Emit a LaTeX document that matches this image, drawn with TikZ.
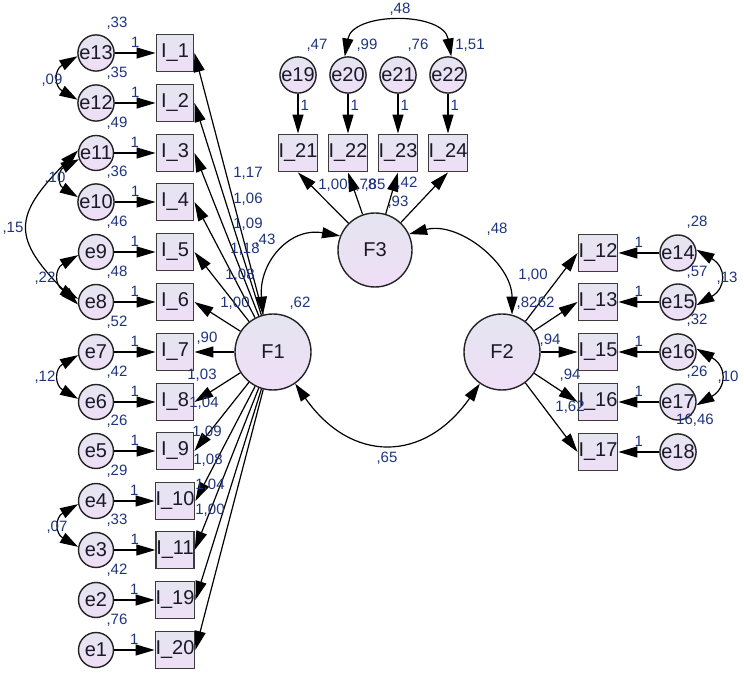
\documentclass[tikz,border=0pt]{standalone}
\usepackage{fontspec}
\setmainfont{Liberation Sans}
\usepackage{tikz}
\usetikzlibrary{arrows.meta}
\definecolor{semTop}{RGB}{228,229,240}
\definecolor{semBot}{RGB}{239,222,246}
\definecolor{semEdge}{RGB}{35,35,35}
\definecolor{semBox}{RGB}{60,60,60}
\definecolor{semText}{RGB}{25,25,40}
\definecolor{semLabel}{RGB}{30,52,125}

\begin{document}
\begin{tikzpicture}[x=1pt,y=1pt,
    latent/.style={circle, draw=semEdge, line width=1.4pt, top color=semTop, bottom color=semBot,
        minimum size=76pt, inner sep=0pt, text=semText, font=\fontsize{20}{20}\selectfont},
    err/.style={latent, minimum size=35pt},
    item/.style={rectangle, draw=semBox, line width=1.9pt, top color=semTop, bottom color=semBot,
        minimum size=37pt, inner sep=0pt, text=semText, font=\fontsize{20}{20}\selectfont},
    arr/.style={-{Triangle[length=19pt,width=11pt]}, line width=1.2pt},
    cov/.style={{Triangle[length=18pt,width=11pt]}-{Triangle[length=18pt,width=11pt]}, line width=1.2pt},
    est/.style={text=semLabel, font=\fontsize{15}{15}\selectfont, inner sep=1pt}]

\useasboundingbox (0,0) rectangle (744,672);

% =========================
% Left block: F1
% =========================
\node[latent] (F1) at (273,320) {F1};

\node[item] (I1)  at (175,619) {I\_1};
\node[item] (I2)  at (175,569) {I\_2};
\node[item] (I3)  at (175,519) {I\_3};
\node[item] (I4)  at (175,470) {I\_4};
\node[item] (I5)  at (175,420) {I\_5};
\node[item] (I6)  at (175,370) {I\_6};
\node[item] (I7)  at (175,320) {I\_7};
\node[item] (I8)  at (175,270) {I\_8};
\node[item] (I9)  at (175,221) {I\_9};
\node[item] (I10) at (175,171) {I\_10};
\node[item] (I11) at (175,122) {I\_11};
\node[item] (I19) at (175,72)  {I\_19};
\node[item] (I20) at (175,22)  {I\_20};

\node[err] (e13) at (96,619) {e13};
\node[err] (e12) at (96,569) {e12};
\node[err] (e11) at (96,519) {e11};
\node[err] (e10) at (96,470) {e10};
\node[err] (e9)  at (96,420) {e9};
\node[err] (e8)  at (96,370) {e8};
\node[err] (e7)  at (96,320) {e7};
\node[err] (e6)  at (96,270) {e6};
\node[err] (e5)  at (96,221) {e5};
\node[err] (e4)  at (96,171) {e4};
\node[err] (e3)  at (96,122) {e3};
\node[err] (e2)  at (96,72)  {e2};
\node[err] (e1)  at (96,22)  {e1};

% error paths
\draw[arr] (e13) -- node[est, above=4pt] (o13) {1} (I1);
\draw[arr] (e12) -- node[est, above=4pt] (o12) {1} (I2);
\draw[arr] (e11) -- node[est, above=4pt] (o11) {1} (I3);
\draw[arr] (e10) -- node[est, above=4pt] (o10) {1} (I4);
\draw[arr] (e9)  -- node[est, above=4pt] (o9)  {1} (I5);
\draw[arr] (e8)  -- node[est, above=4pt] (o8)  {1} (I6);
\draw[arr] (e7)  -- node[est, above=4pt] (o7)  {1} (I7);
\draw[arr] (e6)  -- node[est, above=4pt] (o6)  {1} (I8);
\draw[arr] (e5)  -- node[est, above=4pt] (o5)  {1} (I9);
\draw[arr] (e4)  -- node[est, above=4pt] (o4)  {1} (I10);
\draw[arr] (e3)  -- node[est, above=4pt] (o3)  {1} (I11);
\draw[arr] (e2)  -- node[est, above=4pt] (o2)  {1} (I19);
\draw[arr] (e1)  -- node[est, above=4pt] (o1)  {1} (I20);

% loadings of F1
\draw[arr] (F1) -- (I1.east);
\draw[arr] (F1) -- (I2.east);
\draw[arr] (F1) -- (I3.east);
\draw[arr] (F1) -- (I4.east);
\draw[arr] (F1) -- (I5.east);
\draw[arr] (F1) -- (I6.east);
\draw[arr] (F1) -- (I7.east);
\draw[arr] (F1) -- (I8.east);
\draw[arr] (F1) -- (I9.east);
\draw[arr] (F1) -- (I10.east);
\draw[arr] (F1) -- (I11.east);
\draw[arr] (F1) -- (I19.east);
\draw[arr] (F1) -- (I20.east);

% error covariances
\draw[cov] (e13.190) to[bend right=60, looseness=1.6] (e12.170);
\draw[cov] (e11.200) to[bend right=60, looseness=1.6] (e10.165);
\draw[cov] (e11.172) to[bend right=45, looseness=1.55] (e8.188);
\draw[cov] (e9.190)  to[bend right=60, looseness=1.6] (e8.170);
\draw[cov] (e7.190)  to[bend right=60, looseness=1.6] (e6.170);
\draw[cov] (e4.190)  to[bend right=60, looseness=1.6] (e3.170);

% variances
\node[est] (v13) at (117,649) {,33};
\node[est] (v12) at (117,599) {,35};
\node[est] (v11) at (117,549) {,49};
\node[est] (v10) at (117,500) {,36};
\node[est] (v9)  at (117,450) {,46};
\node[est] (v8)  at (117,400) {,48};
\node[est] (v7)  at (117,350) {,52};
\node[est] (v6)  at (117,300) {,42};
\node[est] (v5)  at (117,251) {,26};
\node[est] (v4)  at (117,201) {,29};
\node[est] (v3)  at (117,152) {,33};
\node[est] (v2)  at (117,102) {,42};
\node[est] (v1)  at (117,52)  {,76};
\node[est] (vF1) at (300,369) {,62};

% covariance values
\node[est] (c1312) at (52,592) {,09};
\node[est] (c1110) at (55,494) {,10};
\node[est] (c118)  at (13,444) {,15};
\node[est] (c98)   at (45,394) {,22};
\node[est] (c76)   at (45,295) {,12};
\node[est] (c43)   at (57,145) {,07};

% loading values
\node[est] (l1)  at (248,499) {1,17};
\node[est] (l2)  at (248,473) {1,06};
\node[est] (l3)  at (248,448) {1,09};
\node[est] (l4)  at (245,423) {1,18};
\node[est] (l5)  at (240,397) {1,08};
\node[est] (l6)  at (235,369) {1,00};
\node[est] (l7)  at (207,334) {,90};
\node[est] (l8)  at (202,297) {1,03};
\node[est] (l9)  at (204,269) {1,04};
\node[est] (l10) at (207,240) {1,09};
\node[est] (l11) at (208,212) {1,08};
\node[est] (l12) at (210,187) {1,04};
\node[est] (l13) at (210,162) {1,00};

% =========================
% Top block: F3
% =========================
\node[latent, minimum size=74pt] (F3) at (375,422) {F3};

\node[item] (I21) at (298,519) {I\_21};
\node[item] (I22) at (348,519) {I\_22};
\node[item] (I23) at (398,519) {I\_23};
\node[item] (I24) at (448,519) {I\_24};

\node[err, minimum size=36pt] (e19) at (298,597) {e19};
\node[err, minimum size=36pt] (e20) at (348,597) {e20};
\node[err, minimum size=36pt] (e21) at (398,597) {e21};
\node[err, minimum size=36pt] (e22) at (448,597) {e22};

\draw[arr] (e19) -- node[est, right=1pt, pos=0.3] (o19) {1} (I21);
\draw[arr] (e20) -- node[est, right=1pt, pos=0.3] (o20) {1} (I22);
\draw[arr] (e21) -- node[est, right=1pt, pos=0.3] (o21) {1} (I23);
\draw[arr] (e22) -- node[est, right=1pt, pos=0.3] (o22) {1} (I24);

\draw[arr] (F3) -- (I21.south);
\draw[arr] (F3) -- (I22.south);
\draw[arr] (F3) -- (I23.south);
\draw[arr] (F3) -- (I24.south);

\draw[cov] (e20.100) to[out=80, in=100, looseness=1.1] (e22.80);

\node[est] (v19) at (317,627) {,47};
\node[est] (v20) at (367,627) {,99};
\node[est] (v21) at (418,627) {,76};
\node[est] (v22) at (470,627) {1,51};
\node[est] (c2022) at (400,663) {,48};

\node[est] (l21) at (333,487) {1,00};
\node[est] (l22) at (366,487) {,78};
\node[est] (l23) at (375,487) {,85};
\node[est] (l24) at (407,489) {,42};
\node[est] (vF3) at (398,470) {,93};

% =========================
% Right block: F2
% =========================
\node[latent] (F2) at (502,320) {F2};

\node[item] (I12) at (598,419) {I\_12};
\node[item] (I13) at (598,370) {I\_13};
\node[item] (I15) at (598,320) {I\_15};
\node[item] (I16) at (598,270) {I\_16};
\node[item] (I17) at (598,220) {I\_17};

\node[err] (e14) at (678,419) {e14};
\node[err] (e15) at (678,370) {e15};
\node[err] (e16) at (678,320) {e16};
\node[err] (e17) at (678,270) {e17};
\node[err] (e18) at (678,220) {e18};

\draw[arr] (e14) -- node[est, above=4pt] (o14) {1} (I12);
\draw[arr] (e15) -- node[est, above=4pt] (o15) {1} (I13);
\draw[arr] (e16) -- node[est, above=4pt] (o16) {1} (I15);
\draw[arr] (e17) -- node[est, above=4pt] (o17) {1} (I16);
\draw[arr] (e18) -- node[est, above=4pt] (o18) {1} (I17);

\draw[arr] (F2) -- (I12.west);
\draw[arr] (F2) -- (I13.west);
\draw[arr] (F2) -- (I15.west);
\draw[arr] (F2) -- (I16.west);
\draw[arr] (F2) -- (I17.west);

\draw[cov] (e14.10) to[bend left=60, looseness=1.6] (e15.-10);
\draw[cov] (e16.10) to[bend left=60, looseness=1.6] (e17.-10);

\node[est] (v14) at (697,450) {,28};
\node[est] (v15) at (697,400) {,57};
\node[est] (v16) at (697,352) {,32};
\node[est] (v17) at (697,300) {,26};
\node[est] (v18) at (695,252) {16,46};
\node[est] (c1415) at (727,394) {,13};
\node[est] (c1617) at (728,295) {,10};

\node[est] (l31) at (533,397) {1,00};
\node[est] (vF2) at (527,369) {,82};
\node[est] (l32) at (544,369) {,62};
\node[est] (l33) at (550,332) {,94};
\node[est] (l34) at (570,297) {,94};
\node[est] (l35) at (570,265) {1,62};

% =========================
% Factor covariances
% =========================
\draw[cov] (F1.105) to[out=95, in=170, looseness=1.2] (F3.158);
\draw[cov] (F3.25) to[out=15, in=90] (F2.75);
\draw[cov] (F1.-55) to[out=-55, in=-125, looseness=1.35] (F2.-125);

\node[est] (cF13) at (265,432) {,43};
\node[est] (cF32) at (497,443) {,48};
\node[est] (cF12) at (387,214) {,65};

\end{tikzpicture}
\end{document}
